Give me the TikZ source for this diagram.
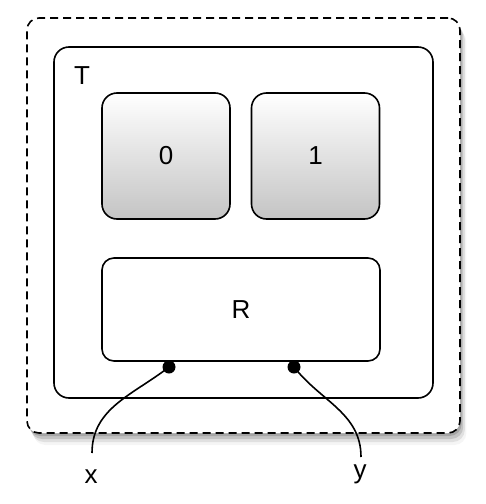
\documentclass[tikz,border=0pt]{standalone}
\usepackage{fontspec}
\setmainfont{Liberation Sans}
\usetikzlibrary{positioning,shadows}
\definecolor{shade}{RGB}{196,196,196}

\begin{document}
\begin{tikzpicture}[x=0.5pt,y=-0.5pt,line width=0.8pt,font=\fontsize{13}{15}\selectfont,
  state/.style={draw,rounded corners=7.5pt,top color=white,bottom color=shade,
    minimum width=64pt,minimum height=63pt,inner sep=0pt},
  dot/.style={circle,fill,inner sep=0pt,minimum size=6.5pt}]
\useasboundingbox (0,0) rectangle (486,504);
\node[draw,dash pattern=on 4pt off 2.5pt,rounded corners=6pt,fill=white,
minimum width=216.5pt,minimum height=207.5pt,
drop shadow={shadow xshift=0.8pt,shadow yshift=-1.5pt,opacity=.45},
drop shadow={shadow xshift=1.6pt,shadow yshift=-3pt,opacity=.3},
drop shadow={shadow xshift=2.4pt,shadow yshift=-4.5pt,opacity=.18},
drop shadow={shadow xshift=3.2pt,shadow yshift=-6pt,opacity=.08}] (sys) at (243.5,225.5) {};
\node[draw,rounded corners=7.5pt,minimum width=189.5pt,minimum height=175.5pt] (T) at (243.5,222.5) {};
\node (tl) at (82,76) {T};
\node[state] (s0) at (166,156) {0};
\node[state] (s1) at (315.5,156) {1};
\node[draw,rounded corners=6pt,minimum width=139pt,minimum height=51.5pt] (R) at (241,309.5) {R};
\node[dot] (px) at (169,367) {};
\node[dot] (py) at (294,367) {};
\coordinate (xe) at (92,453);
\coordinate (ye) at (361,457);
\node (x) at (91,477) {x};
\node (y) at (360,474) {y};
\draw (px.center) to[out=-142,in=90] (xe);
\draw (py.center) to[out=-52,in=90] (ye);
\end{tikzpicture}
\end{document}
